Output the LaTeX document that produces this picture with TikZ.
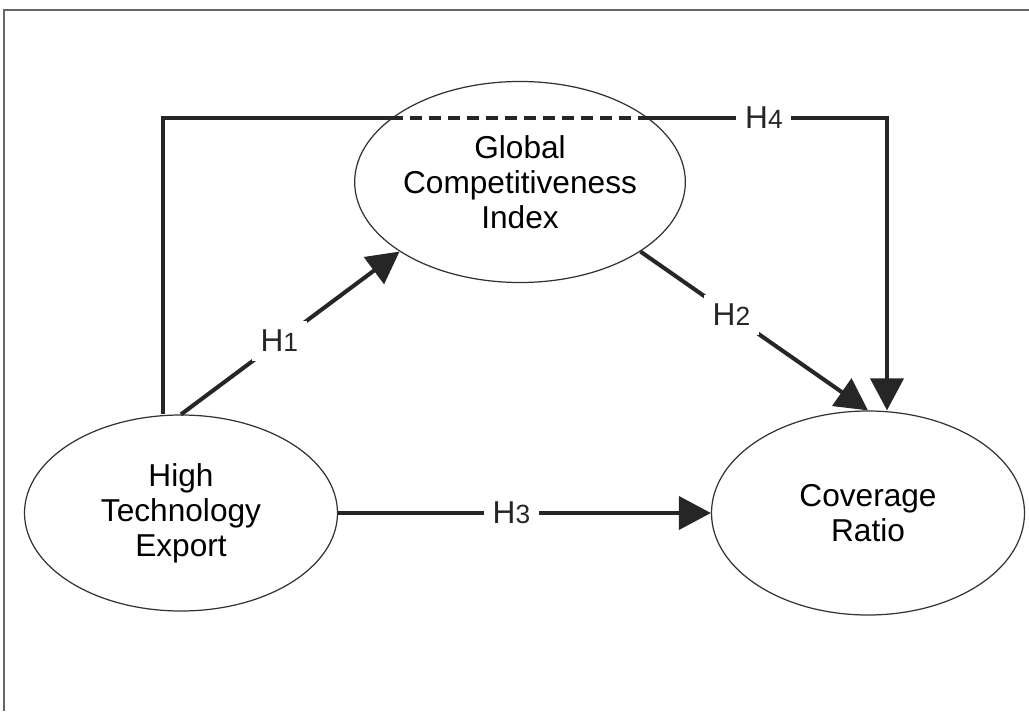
\documentclass[tikz,border=0pt]{standalone}
\usepackage{fontspec}
\setmainfont{Liberation Sans}
\usetikzlibrary{arrows.meta, shapes.geometric}

\newcommand{\hyp}[1]{H{\fontsize{15}{15}\selectfont #1}}

\begin{document}
\begin{tikzpicture}[
  var/.style={ellipse, draw=black!80, line width=0.7pt, fill=white, inner sep=0pt, align=center, font=\fontsize{18}{20}\selectfont},
  fl/.style={-{Triangle[length=6.4mm, width=6.6mm]}, line width=2.3pt, draw=black!85},
  lbl/.style={fill=white, inner sep=5pt, text=black!85, font=\fontsize{18}{20}\selectfont}
]
\useasboundingbox (0,0) rectangle (20.58,14.22);
\draw[black!60, line width=1pt] (0.08,0) -- (0.08,14.02) -- (20.58,14.02);

\node[var, minimum width=6.26cm, minimum height=3.92cm] (hte) at (3.62,3.96) {High\\Technology\\Export};
\node[var, minimum width=6.26cm, minimum height=4.08cm] (cr) at (17.36,3.96) {Coverage\\Ratio};
\coordinate (tl) at (3.26,11.86);
\coordinate (tr) at (17.74,11.86);

% H4 runs behind the GCI ellipse
\draw[fl] (hte.north -| tl) -- (tl) -- (tr) node[lbl, pos=0.83] {\hyp{4}} -- (tr |- cr.north);
\node[var, minimum width=6.3cm, minimum height=4.02cm] (gci) at (10.4,10.58) {Global\\Competitiveness\\Index};
\draw[line width=2.3pt, draw=black!85, dash pattern=on 0.24cm off 0.14cm] (tl) -- (gci.east |- tl);

\draw[fl] (hte.north) -- (gci.210) node[lbl, pos=0.45] {\hyp{1}};
\draw[fl] (gci.330) -- (cr.north) node[lbl, pos=0.4] {\hyp{2}};
\draw[fl] (hte.east) -- (cr.west) node[lbl, pos=0.465] {\hyp{3}};
\end{tikzpicture}
\end{document}
